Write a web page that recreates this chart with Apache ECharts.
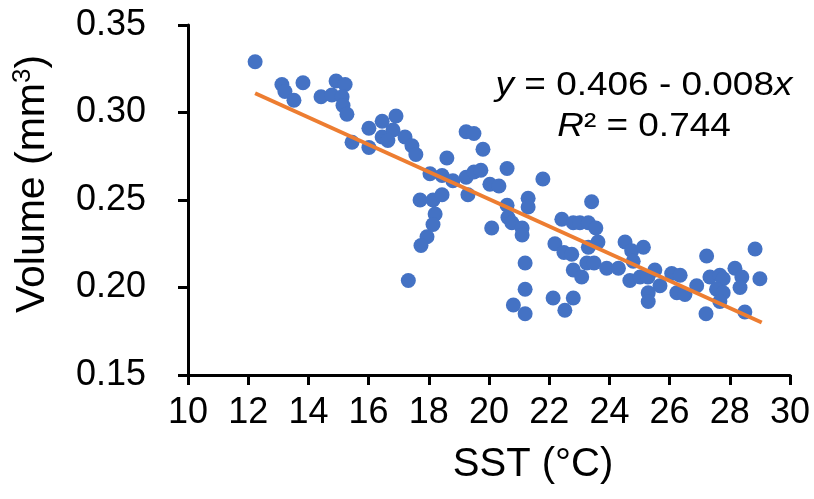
<!DOCTYPE html>
<html>
<head>
<meta charset="utf-8">
<script src="https://cdn.jsdelivr.net/npm/echarts@6/dist/echarts.min.js"></script>
<style>
html,body{margin:0;padding:0;background:#fff;}
#chart{width:814px;height:499px;}
</style>
</head>
<body>
<div id="chart"></div>
<script>
// Sea-surface temperature (°C) of each sample
const sst = [
  12.23, 13.12, 13.22, 13.52, 13.82, 14.42, 14.92, 15.22, 14.78, 15.12,
  15.15, 15.28, 15.45, 16.01, 16.01, 16.45, 16.91, 16.81, 16.45, 16.64,
  17.21, 17.44, 17.57, 18.60, 19.24, 19.50, 19.80, 20.60, 21.79, 18.04,
  18.44, 18.80, 19.24, 19.50, 19.73, 20.03, 20.33, 19.30, 17.71, 18.14,
  18.44, 18.21, 18.14, 17.94, 17.74, 17.32, 20.60, 20.63, 20.76, 21.30,
  21.30, 21.10, 21.10, 20.09, 21.20, 21.20, 20.81, 21.20, 22.42, 22.80,
  23.02, 23.30, 23.55, 23.41, 22.19, 22.49, 22.75, 23.30, 23.62, 23.25,
  23.49, 22.80, 23.08, 22.13, 22.52, 22.80, 23.91, 24.30, 24.52, 24.74,
  25.13, 24.68, 24.79, 25.02, 25.51, 25.28, 25.68, 25.29, 25.29, 26.07,
  26.35, 26.24, 26.51, 26.90, 27.23, 27.34, 27.67, 27.78, 27.56, 27.78,
  27.67, 28.17, 28.40, 28.34, 27.21, 28.50, 28.84, 29.00
];
// Volume (mm³) of each sample
const volume = [
  0.329, 0.316, 0.312, 0.307, 0.317, 0.309, 0.318, 0.316, 0.310, 0.309,
  0.304, 0.299, 0.283, 0.291, 0.280, 0.295, 0.298, 0.290, 0.286, 0.284,
  0.286, 0.281, 0.276, 0.274, 0.289, 0.288, 0.279, 0.268, 0.262, 0.265,
  0.264, 0.261, 0.263, 0.266, 0.267, 0.259, 0.258, 0.253, 0.250, 0.250,
  0.253, 0.242, 0.236, 0.229, 0.224, 0.204, 0.247, 0.240, 0.237, 0.251,
  0.246, 0.234, 0.230, 0.234, 0.214, 0.199, 0.190, 0.185, 0.239, 0.237,
  0.237, 0.237, 0.234, 0.249, 0.225, 0.220, 0.219, 0.223, 0.226, 0.214,
  0.214, 0.210, 0.206, 0.194, 0.187, 0.194, 0.211, 0.211, 0.226, 0.221,
  0.223, 0.204, 0.215, 0.206, 0.210, 0.206, 0.201, 0.197, 0.192, 0.208,
  0.207, 0.197, 0.196, 0.201, 0.218, 0.206, 0.207, 0.205, 0.199, 0.197,
  0.192, 0.211, 0.206, 0.200, 0.185, 0.186, 0.222, 0.205
];
// Linear trend line end points
const trendSST = [12.23, 29.06];
const trendVolume = [0.311, 0.180];
// Annotation text
const equationText = ['{i|y} = 0.406 - 0.008{i|x}', '{i|R}² = 0.744'];
// Axis titles
const xTitle = 'SST (°C)';
const yTitle = 'Volume (mm{sup|3})';

const FONT = '"Liberation Sans", Arial, sans-serif';
const chart = echarts.init(document.getElementById('chart'), null, {renderer: 'canvas'});

const points = sst.map((v, i) => [v, volume[i]]);
const trend = trendSST.map((v, i) => [v, trendVolume[i]]);

const axisCommon = {
  axisLine: {show: true, onZero: false, lineStyle: {color: '#000', width: 3}},
  axisTick: {show: true, inside: false, length: 10, lineStyle: {color: '#000', width: 3}},
  splitLine: {show: false},
  axisLabel: {color: '#000', fontSize: 36, fontFamily: FONT}
};

chart.setOption({
  animation: false,
  backgroundColor: '#fff',
  grid: {left: 188, right: 24, top: 25, bottom: 124, containLabel: false},
  xAxis: Object.assign({}, axisCommon, {
    type: 'value', min: 10, max: 30, interval: 2,
    axisLabel: Object.assign({}, axisCommon.axisLabel, {margin: 20})
  }),
  yAxis: Object.assign({}, axisCommon, {
    type: 'value', min: 0.15, max: 0.35, interval: 0.05,
    axisLabel: Object.assign({}, axisCommon.axisLabel, {margin: 42, formatter: v => v.toFixed(2)})
  }),
  series: [
    {
      type: 'scatter',
      data: points,
      symbol: 'circle',
      symbolSize: 15,
      itemStyle: {color: '#4472C4', opacity: 1},
      z: 2
    },
    {
      type: 'line',
      data: trend,
      symbol: 'none',
      lineStyle: {color: '#ED7D31', width: 4},
      z: 3
    }
  ],
  graphic: [
    {
      type: 'text', x: 533, y: 465, z: 10,
      style: {text: xTitle, font: '40px ' + FONT, fill: '#000', textAlign: 'center', verticalAlign: 'middle'}
    },
    {
      type: 'text', x: 33, y: 184, rotation: Math.PI / 2, z: 10,
      style: {
        text: yTitle, fill: '#000', textAlign: 'center', verticalAlign: 'middle',
        fontSize: 41, fontFamily: FONT,
        rich: {sup: {fontSize: 26, fontFamily: FONT, fill: '#000', verticalAlign: 'top', lineHeight: 46}}
      }
    },
    {
      type: 'text', x: 644, y: 86, scaleX: 1.12, z: 10,
      style: {
        text: equationText[0], fill: '#000', textAlign: 'center', verticalAlign: 'middle',
        fontSize: 33, fontFamily: FONT,
        rich: {i: {fontStyle: 'italic', fontSize: 33, fontFamily: FONT, fill: '#000'}}
      }
    },
    {
      type: 'text', x: 644, y: 127, scaleX: 1.12, z: 10,
      style: {
        text: equationText[1], fill: '#000', textAlign: 'center', verticalAlign: 'middle',
        fontSize: 33, fontFamily: FONT,
        rich: {i: {fontStyle: 'italic', fontSize: 33, fontFamily: FONT, fill: '#000'}}
      }
    }
  ]
});
</script>
</body>
</html>
